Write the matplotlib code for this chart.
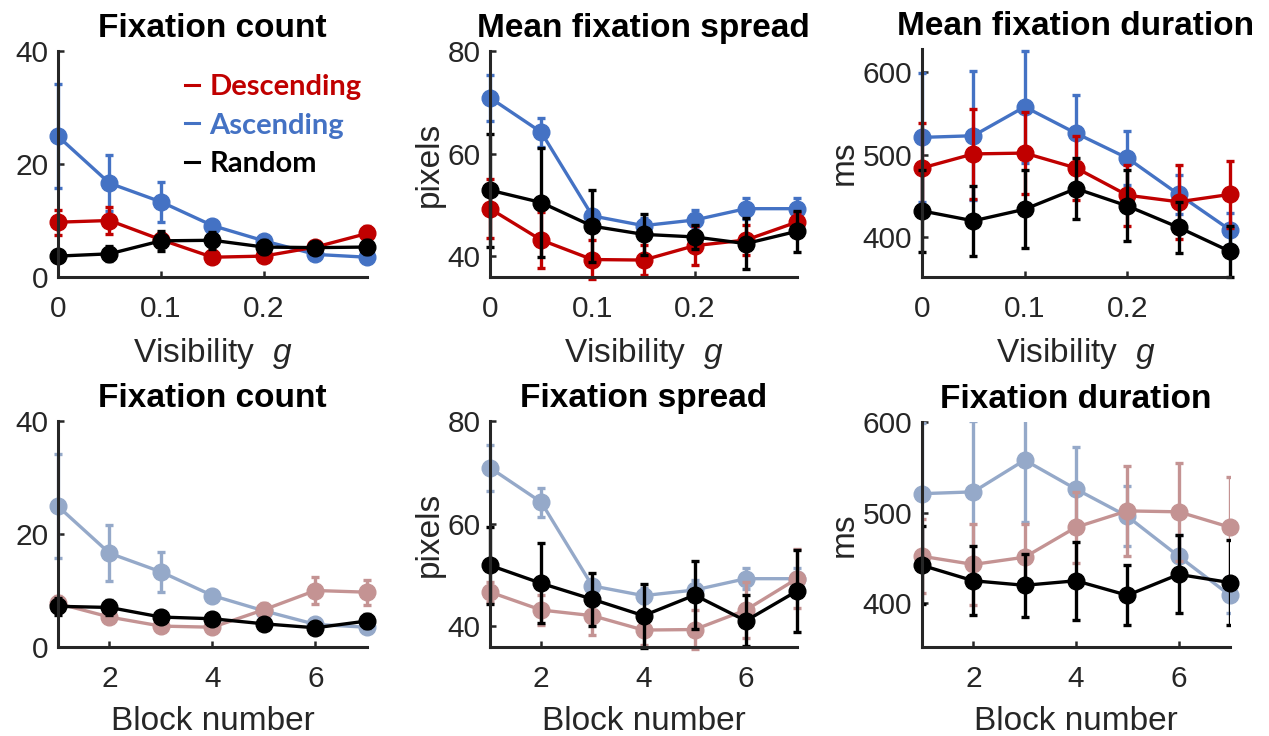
import matplotlib
matplotlib.use("Agg")
import matplotlib.pyplot as plt
from matplotlib.lines import Line2D

plt.rcParams['font.family'] = ['Liberation Sans', 'DejaVu Sans']
plt.rcParams['mathtext.fontset'] = 'custom'
plt.rcParams['mathtext.rm'] = 'Liberation Sans'
plt.rcParams['mathtext.it'] = 'Liberation Sans:italic'

# ---------------- data ----------------
visibility = [0, 0.05, 0.1, 0.15, 0.2, 0.25, 0.3]
blocks = [1, 2, 3, 4, 5, 6, 7]

# Fixation count vs visibility
asc_count = [24.9, 16.6, 13.3, 9.1, 6.4, 4.0, 3.5]
asc_count_err = [9.2, 5.0, 3.6, 1.0, 0.8, 0.6, 0.6]
desc_count = [9.7, 10.0, 6.6, 3.5, 3.7, 5.3, 7.7]
desc_count_err = [2.2, 2.4, 1.2, 0.8, 0.8, 0.8, 1.3]
rand_count = [3.7, 4.1, 6.4, 6.5, 5.3, 5.2, 5.3]
rand_count_err = [1.0, 1.3, 1.8, 1.5, 1.3, 1.0, 1.3]

# Mean fixation spread vs visibility
asc_spread = [70.9, 64.2, 47.9, 46.0, 47.1, 49.3, 49.3]
asc_spread_err = [4.5, 2.8, 1.0, 1.5, 2.0, 2.0, 2.0]
desc_spread = [49.3, 43.2, 39.4, 39.3, 42.1, 43.2, 46.7]
desc_spread_err = [5.7, 5.5, 3.8, 3.0, 3.8, 3.0, 2.0]
rand_spread = [52.9, 50.5, 45.9, 44.3, 43.8, 42.5, 44.9]
rand_spread_err = [11.0, 10.6, 7.0, 4.0, 2.3, 5.0, 4.0]

# Mean fixation duration vs visibility
asc_dur = [521, 523, 558, 526, 496, 452, 409]
asc_dur_err = [78, 78, 68, 46, 33, 24, 20]
desc_dur = [484, 501, 502, 484, 451, 443, 452]
desc_dur_err = [55, 54, 50, 39, 37, 45, 41]
rand_dur = [432, 420, 434, 459, 438, 412, 383]
rand_dur_err = [50, 42, 47, 37, 43, 31, 31]

# Block-number panels
asc_count_blk = [24.9, 16.6, 13.3, 9.1, 6.4, 4.0, 3.5]
asc_count_blk_err = [9.2, 5.0, 3.6, 1.0, 0.8, 0.6, 0.6]
desc_count_blk = [7.7, 5.3, 3.7, 3.5, 6.6, 10.0, 9.7]
desc_count_blk_err = [1.3, 0.8, 0.8, 0.8, 1.2, 2.4, 2.2]
rand_count_blk = [7.2, 7.0, 5.3, 5.0, 4.1, 3.4, 4.6]
rand_count_blk_err = [1.5, 1.3, 1.0, 1.0, 1.0, 1.0, 1.2]

asc_spread_blk = [70.9, 64.2, 47.9, 46.0, 47.1, 49.3, 49.3]
asc_spread_blk_err = [4.5, 2.8, 1.0, 1.5, 2.0, 2.0, 2.0]
desc_spread_blk = [46.7, 43.2, 42.1, 39.3, 39.4, 43.2, 49.3]
desc_spread_blk_err = [2.0, 3.0, 3.8, 3.0, 3.8, 5.5, 5.7]
rand_spread_blk = [51.9, 48.4, 45.3, 42.1, 46.1, 41.1, 46.9]
rand_spread_blk_err = [7.5, 7.8, 5.2, 6.2, 6.6, 5.0, 8.0]

asc_dur_blk = [521, 523, 558, 526, 496, 452, 409]
asc_dur_blk_err = [78, 78, 68, 46, 33, 24, 20]
desc_dur_blk = [452, 443, 451, 484, 502, 501, 484]
desc_dur_blk_err = [41, 45, 37, 39, 50, 54, 55]
rand_dur_blk = [442, 425, 420, 425, 409, 432, 423]
rand_dur_blk_err = [43, 38, 35, 43, 33, 43, 47]

labels = ['Descending', 'Ascending', 'Random']

RED = '#C00000'
BLUE = '#4472C4'
BLACK = '#000000'
RED_F = '#C49393'
BLUE_F = '#95A9C9'
AXC = '#262626'

W, H = 1269, 736
fig = plt.figure(figsize=(W / 100, H / 100), dpi=100)


def make_ax(l, r, t, b):
    return fig.add_axes([l / W, (H - b) / H, (r - l) / W, (b - t) / H])


def series(ax, x, y, e, color, clip=False):
    eb = ax.errorbar(x, y, yerr=e, color=color, elinewidth=2.4,
                     capsize=3, capthick=2.4, fmt='none')
    for art in eb.lines[1] + eb.lines[2]:
        art.set_clip_on(clip)
    ax.plot(x, y, '-o', color=color, lw=2.4, ms=12, clip_on=False)


def style(ax, title, xt, xtl, xlabel, yt, ylim, xlim, ylabel=None):
    ax.set_xlim(*xlim)
    ax.set_ylim(*ylim)
    ax.set_xticks(xt)
    ax.set_xticklabels(xtl)
    ax.set_yticks(yt)
    for s in ['top', 'right']:
        ax.spines[s].set_visible(False)
    for s in ['left', 'bottom']:
        ax.spines[s].set_color(AXC)
        ax.spines[s].set_linewidth(2.2)
    ax.tick_params(direction='in', length=4, width=1.8, color=AXC,
                   labelsize=21.5, labelcolor=AXC)
    ax.tick_params(axis='x', pad=13)
    ax.tick_params(axis='y', pad=7)
    ax.set_title(title, fontsize=24, fontweight='bold', pad=10)
    ax.set_xlabel(xlabel, fontsize=24, color=AXC, labelpad=9)
    if ylabel:
        ax.set_ylabel(ylabel, fontsize=24, color=AXC, labelpad=2)


vis_lim = (0, 0.3)
blk_lim = (1, 7)
vis_ticks = [0, 0.1, 0.2]
vis_tl = ['0', '0.1', '0.2']
blk_ticks = [2, 4, 6]
blk_tl = ['2', '4', '6']
vlab = 'Visibility  $g$'
blab = 'Block number'

# top row
ax1 = make_ax(58, 367, 51, 277)
series(ax1, visibility, asc_count, asc_count_err, BLUE)
series(ax1, visibility, desc_count, desc_count_err, RED)
series(ax1, visibility, rand_count, rand_count_err, BLACK)
style(ax1, 'Fixation count', vis_ticks, vis_tl, vlab, [0, 20, 40], (0, 40), vis_lim)
handles = [Line2D([], [], color=c, lw=2.2) for c in (RED, BLUE, BLACK)]
leg = ax1.legend(handles, labels, loc='upper left', bbox_to_anchor=(0.325, 1.013),
                 frameon=False, handlelength=0.5, handletextpad=0.35,
                 labelspacing=0.42, labelcolor=[RED, BLUE, BLACK],
                 prop={'family': 'Lato', 'weight': 'bold', 'size': 21})

ax2 = make_ax(490, 797, 51, 277)
series(ax2, visibility, asc_spread, asc_spread_err, BLUE)
series(ax2, visibility, desc_spread, desc_spread_err, RED)
series(ax2, visibility, rand_spread, rand_spread_err, BLACK)
style(ax2, 'Mean fixation spread', vis_ticks, vis_tl, vlab, [40, 60, 80], (36, 80), vis_lim,
      ylabel='pixels')

ax3 = make_ax(922, 1230, 49, 277)
series(ax3, visibility, asc_dur, asc_dur_err, BLUE)
series(ax3, visibility, desc_dur, desc_dur_err, RED)
series(ax3, visibility, rand_dur, rand_dur_err, BLACK)
style(ax3, 'Mean fixation duration', vis_ticks, vis_tl, vlab, [400, 500, 600], (352, 628), vis_lim,
      ylabel='ms')

# bottom row
ax4 = make_ax(58, 367, 421, 647)
series(ax4, blocks, asc_count_blk, asc_count_blk_err, BLUE_F)
series(ax4, blocks, desc_count_blk, desc_count_blk_err, RED_F)
series(ax4, blocks, rand_count_blk, rand_count_blk_err, BLACK)
style(ax4, 'Fixation count', blk_ticks, blk_tl, blab, [0, 20, 40], (0, 40), blk_lim)

ax5 = make_ax(490, 797, 421, 647)
series(ax5, blocks, asc_spread_blk, asc_spread_blk_err, BLUE_F)
series(ax5, blocks, desc_spread_blk, desc_spread_blk_err, RED_F)
series(ax5, blocks, rand_spread_blk, rand_spread_blk_err, BLACK)
style(ax5, 'Fixation spread', blk_ticks, blk_tl, blab, [40, 60, 80], (36, 80), blk_lim,
      ylabel='pixels')

ax6 = make_ax(922, 1230, 422, 647)
series(ax6, blocks, asc_dur_blk, asc_dur_blk_err, BLUE_F, clip=True)
series(ax6, blocks, desc_dur_blk, desc_dur_blk_err, RED_F, clip=True)
series(ax6, blocks, rand_dur_blk, rand_dur_blk_err, BLACK, clip=True)
style(ax6, 'Fixation duration', blk_ticks, blk_tl, blab, [400, 500, 600], (352, 600), blk_lim,
      ylabel='ms')

fig.savefig('out.png', dpi=100)
